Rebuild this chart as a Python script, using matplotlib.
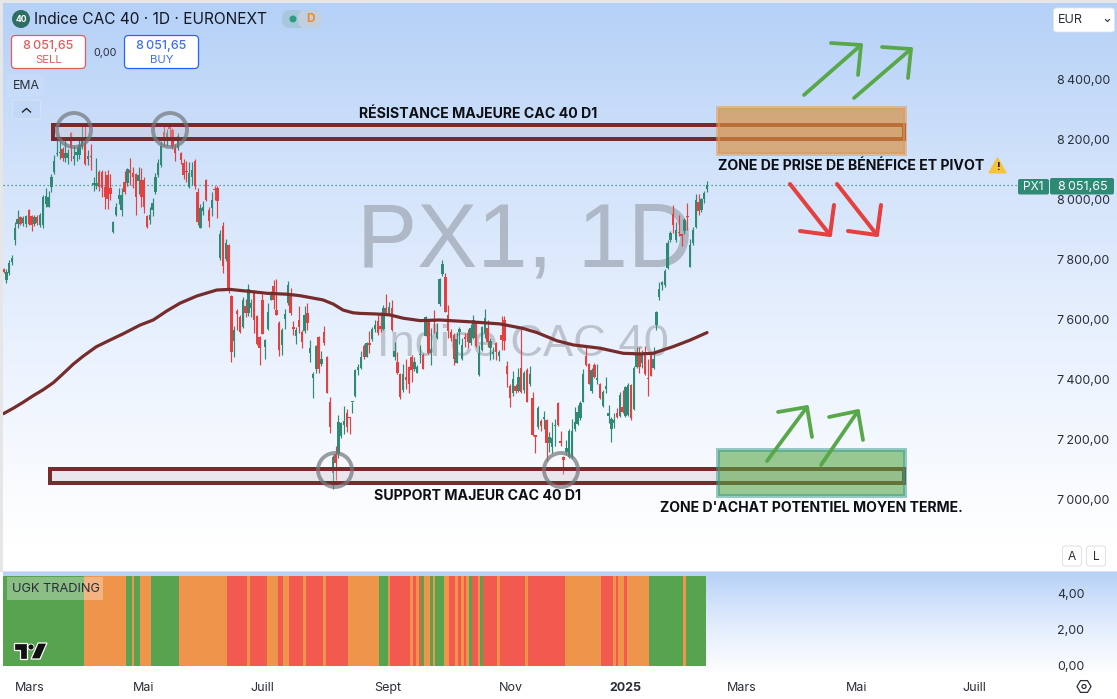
import numpy as np
import matplotlib
matplotlib.use("Agg")
import matplotlib.pyplot as plt
from matplotlib.colors import LinearSegmentedColormap
from matplotlib.patches import Rectangle, Circle, FancyBboxPatch, Polygon

plt.rcParams["font.family"] = ["Inter", "DejaVu Sans"]

# candles, one per trading day
opens = [
    7769, 7733, 7756, 7793, 7867, 7920, 7944, 7922, 7920, 7967,
    7945, 7920, 7944, 7916, 7917, 7985, 7978, 8044, 8094, 8154,
    8155, 8170, 8140, 8140, 8222, 8135, 8150, 8150, 8178, 8190,
    8137, 8146, 8050, 8045, 8094, 8094, 8044, 8083, 8040, 7892,
    7950, 8002, 7967, 8061, 8056, 8100, 8090, 8085, 8064, 8067,
    8066, 7947, 7933, 7967, 8028, 8083, 8115, 8227, 8200, 8240,
    8233, 8172, 8172, 8158, 8124, 8095, 8044, 8075, 8130, 8028,
    7908, 7964, 8067, 7967, 7972, 8038, 8039, 7806, 7913, 7802,
    7850, 7680, 7531, 7630, 7609, 7576, 7647, 7624, 7640, 7698,
    7613, 7542, 7667, 7511, 7571, 7667, 7713, 7633, 7591, 7517,
    7603, 7656, 7683, 7576, 7547, 7600, 7561, 7563, 7622, 7491,
    7408, 7436, 7542, 7453, 7560, 7476, 7327, 7091, 7153, 7153,
    7213, 7250, 7291, 7275, 7325, 7347, 7433, 7439, 7513, 7478,
    7521, 7536, 7569, 7598, 7580, 7571, 7639, 7622, 7639, 7478,
    7461, 7420, 7367, 7409, 7444, 7478, 7436, 7424, 7482, 7483,
    7547, 7594, 7491, 7602, 7539, 7653, 7753, 7744, 7617, 7560,
    7550, 7458, 7561, 7470, 7541, 7555, 7522, 7539, 7591, 7415,
    7500, 7558, 7572, 7506, 7488, 7524, 7480, 7549, 7600, 7447,
    7380, 7356, 7380, 7364, 7439, 7367, 7433, 7387, 7339, 7213,
    7242, 7263, 7271, 7267, 7189, 7178, 7247, 7324, 7195, 7142,
    7161, 7144, 7142, 7235, 7253, 7272, 7328, 7480, 7453, 7362,
    7450, 7401, 7387, 7313, 7370, 7281, 7238, 7255, 7291, 7280,
    7311, 7281, 7283, 7383, 7302, 7444, 7487, 7456, 7492, 7405,
    7483, 7441, 7583, 7678, 7717, 7717, 7772, 7867, 7953, 7867,
    7892, 7885, 7895, 7945, 7778, 7855, 7911, 7994, 7967, 8003,
    8035]
highs = [
    7772, 7769, 7800, 7817, 7925, 7968, 7948, 7945, 7950, 7970,
    7950, 7950, 7950, 7955, 8015, 8040, 8030, 8085, 8150, 8210,
    8195, 8175, 8200, 8170, 8225, 8180, 8175, 8210, 8245, 8245,
    8165, 8185, 8075, 8140, 8100, 8100, 8095, 8100, 8085, 7930,
    7990, 8040, 8040, 8095, 8105, 8140, 8110, 8090, 8110, 8105,
    8075, 7950, 7975, 8005, 8090, 8135, 8195, 8253, 8235, 8250,
    8240, 8185, 8222, 8160, 8135, 8130, 8125, 8125, 8135, 8040,
    7985, 7995, 8070, 7975, 8025, 8048, 8045, 7900, 7925, 7870,
    7853, 7682, 7580, 7637, 7615, 7678, 7670, 7720, 7670, 7700,
    7615, 7545, 7685, 7537, 7657, 7697, 7733, 7738, 7597, 7572,
    7637, 7730, 7705, 7597, 7578, 7647, 7565, 7647, 7657, 7533,
    7427, 7518, 7545, 7497, 7580, 7480, 7343, 7150, 7180, 7282,
    7260, 7313, 7303, 7278, 7328, 7435, 7452, 7498, 7520, 7525,
    7562, 7575, 7600, 7620, 7625, 7650, 7687, 7660, 7667, 7528,
    7492, 7422, 7452, 7470, 7448, 7482, 7475, 7450, 7515, 7490,
    7612, 7600, 7572, 7632, 7590, 7740, 7800, 7755, 7650, 7570,
    7555, 7560, 7578, 7540, 7555, 7570, 7585, 7618, 7595, 7515,
    7580, 7636, 7600, 7540, 7510, 7528, 7500, 7612, 7613, 7463,
    7385, 7430, 7388, 7440, 7569, 7430, 7440, 7447, 7359, 7215,
    7312, 7270, 7295, 7270, 7225, 7260, 7270, 7325, 7230, 7145,
    7200, 7235, 7270, 7310, 7315, 7330, 7435, 7510, 7455, 7440,
    7455, 7452, 7390, 7365, 7410, 7315, 7275, 7290, 7305, 7360,
    7365, 7380, 7390, 7388, 7445, 7510, 7510, 7500, 7512, 7470,
    7490, 7510, 7630, 7725, 7730, 7770, 7865, 7895, 7983, 7925,
    7950, 7888, 7940, 7989, 7870, 7910, 8020, 8020, 8005, 8030,
    8062]
lows = [
    7755, 7724, 7750, 7783, 7850, 7905, 7915, 7912, 7910, 7915,
    7895, 7912, 7918, 7910, 7905, 7975, 7975, 8025, 8085, 8145,
    8135, 8130, 8125, 8120, 8130, 8115, 8130, 8135, 8170, 8115,
    8115, 8100, 8030, 8038, 8030, 8010, 7970, 7970, 8000, 7890,
    7945, 7985, 7945, 8020, 8045, 8050, 8040, 7950, 8020, 7975,
    7955, 7905, 7920, 7945, 8020, 8075, 8110, 8180, 8180, 8200,
    8170, 8130, 8165, 8120, 8070, 8060, 8040, 8050, 8035, 7915,
    7905, 7950, 7995, 7910, 7945, 8000, 7940, 7800, 7755, 7797,
    7690, 7461, 7478, 7567, 7558, 7572, 7610, 7612, 7610, 7555,
    7518, 7450, 7552, 7470, 7565, 7665, 7636, 7615, 7480, 7483,
    7570, 7650, 7615, 7550, 7520, 7558, 7508, 7558, 7567, 7461,
    7339, 7422, 7424, 7445, 7515, 7355, 7224, 7035, 7065, 7140,
    7208, 7220, 7225, 7220, 7290, 7343, 7418, 7437, 7470, 7475,
    7490, 7530, 7560, 7550, 7560, 7565, 7615, 7620, 7562, 7468,
    7420, 7338, 7360, 7370, 7357, 7392, 7430, 7422, 7458, 7435,
    7545, 7488, 7450, 7555, 7535, 7648, 7745, 7625, 7540, 7530,
    7450, 7455, 7520, 7465, 7510, 7505, 7515, 7535, 7510, 7413,
    7495, 7540, 7510, 7467, 7470, 7465, 7462, 7500, 7500, 7378,
    7310, 7345, 7355, 7360, 7358, 7355, 7325, 7380, 7214, 7155,
    7235, 7230, 7235, 7130, 7160, 7155, 7180, 7248, 7180, 7088,
    7150, 7140, 7140, 7230, 7250, 7265, 7325, 7445, 7385, 7358,
    7408, 7385, 7335, 7310, 7355, 7258, 7192, 7240, 7272, 7278,
    7290, 7278, 7280, 7268, 7300, 7440, 7422, 7440, 7415, 7348,
    7412, 7435, 7567, 7665, 7700, 7710, 7770, 7860, 7889, 7860,
    7880, 7845, 7885, 7900, 7775, 7850, 7905, 7950, 7960, 7990,
    8025]
closes = [
    7761, 7761, 7791, 7808, 7906, 7935, 7920, 7939, 7946, 7920,
    7915, 7944, 7922, 7950, 8011, 8012, 8011, 8078, 8130, 8156,
    8158, 8140, 8155, 8158, 8172, 8147, 8160, 8183, 8195, 8120,
    8148, 8144, 8055, 8058, 8042, 8040, 8010, 8002, 8020, 7928,
    7976, 8017, 8017, 8028, 8102, 8089, 8075, 8011, 8083, 8011,
    7976, 7911, 7950, 7989, 8078, 8124, 8180, 8200, 8224, 8238,
    8178, 8158, 8213, 8133, 8083, 8093, 8091, 8100, 8047, 7925,
    7972, 7976, 8000, 7931, 8000, 8034, 7995, 7887, 7780, 7858,
    7700, 7494, 7567, 7620, 7561, 7667, 7622, 7702, 7656, 7600,
    7520, 7505, 7553, 7533, 7626, 7689, 7667, 7617, 7500, 7567,
    7620, 7717, 7624, 7571, 7567, 7578, 7528, 7617, 7591, 7508,
    7420, 7513, 7436, 7469, 7524, 7356, 7244, 7142, 7122, 7260,
    7256, 7264, 7242, 7272, 7327, 7433, 7444, 7478, 7478, 7522,
    7518, 7569, 7583, 7556, 7571, 7639, 7622, 7642, 7567, 7498,
    7424, 7344, 7420, 7401, 7387, 7432, 7461, 7444, 7484, 7438,
    7609, 7491, 7504, 7593, 7561, 7736, 7786, 7628, 7564, 7540,
    7469, 7536, 7569, 7517, 7538, 7525, 7572, 7600, 7513, 7490,
    7576, 7606, 7528, 7531, 7490, 7494, 7494, 7533, 7530, 7420,
    7341, 7402, 7363, 7409, 7361, 7422, 7328, 7420, 7215, 7211,
    7308, 7247, 7273, 7189, 7209, 7206, 7249, 7250, 7189, 7133,
    7172, 7231, 7231, 7260, 7294, 7322, 7420, 7450, 7387, 7433,
    7411, 7403, 7339, 7359, 7381, 7289, 7269, 7265, 7275, 7350,
    7294, 7376, 7383, 7272, 7439, 7489, 7444, 7489, 7420, 7403,
    7414, 7469, 7628, 7702, 7726, 7763, 7858, 7889, 7917, 7900,
    7890, 7880, 7933, 7943, 7850, 7900, 8000, 7964, 8002, 8024,
    8051]

# EMA read at many places along the line
ema_idx = [0, 3.5, 7, 10.6, 14, 17.7, 21.3, 24.8, 28.4, 33, 37.8, 42.5, 48.5, 53.2, 58,
           62.7, 68.7, 75.8, 80.5, 88.7, 93.6, 100.7, 105.4, 113.5, 117.2, 120.7, 124.2,
           126.7, 132.7, 137.3, 142, 148, 155, 165.8, 176.4, 184.6, 189.6, 196.6, 202.4,
           212, 220.2, 226.2, 230.8, 237.9, 244, 250]
ema_val = [7288, 7306, 7326, 7348, 7367, 7391, 7422, 7453, 7480, 7511, 7533, 7554, 7583, 7600, 7630,
           7656, 7680, 7700, 7702, 7694, 7689, 7686, 7681, 7667, 7653, 7633, 7624,
           7622, 7620, 7617, 7606, 7598, 7600, 7594, 7587, 7572, 7558, 7531, 7517,
           7506, 7489, 7487, 7489, 7511, 7533, 7558]

# indicator bands as runs: state and number of days
band_states = ["G", "O", "G", "O", "G", "O", "G", "O", "R", "O", "R", "O", "R", "O", "R", "O",
               "R", "O", "R", "O", "G", "O", "R", "O", "R", "O", "R", "G", "O", "G", "O", "G",
               "O", "R", "O", "R", "O", "R", "O", "G", "R", "O", "G", "R", "O", "R", "O", "R",
               "O", "R", "O", "R", "O", "R", "O", "G", "O", "G"]
band_days = [29, 15, 2, 1, 2, 4, 10, 17, 7, 1, 6, 4, 2, 2, 5, 1,
             6, 1, 8, 11, 3, 1, 7, 1, 1, 1, 1, 1, 2, 1, 1, 3,
             2, 2, 1, 1, 1, 1, 1, 1, 2, 1, 1, 5, 1, 9, 1, 13,
             13, 4, 1, 1, 2, 1, 8, 12, 1, 7]
band_colors = {"G": "#58a34f", "O": "#ef944b", "R": "#f2594f"}

price_ticks = [7000, 7200, 7400, 7600, 7800, 8000, 8200, 8400]
band_ticks = [0, 2, 4]
month_pos = [9.4, 49.9, 91.9, 136.6, 180.3, 220.9, 262.4, 303.3, 344.9]
month_names = ["Mars", "Mai", "Juill", "Sept", "Nov", "2025", "Mars", "Mai", "Juill"]

last_price = 8051.65
resistance = (17.6, 320.0, 8203, 8250)
support = (16.5, 320.0, 7057, 7103)
profit_zone = (253.9, 320.4, 8153, 8307)
buy_zone = (253.9, 320.4, 7013, 7167)

W, H = 1117, 699
TEXT = "#2a2e39"
UP = "#2f8a75"
DOWN = "#e5403f"
BROWN = "#762c2c"


def fmt(v):
    s = f"{v:,.2f}".replace(",", "\u2009").replace(".", ",")
    return s


def px_axes(fig, left, top, right, bottom):
    return fig.add_axes([left / W, 1 - bottom / H, (right - left) / W, (bottom - top) / H])


def zone(ax, box, face, edge, lw=2.88):
    x0, x1, y0, y1 = box
    ax.add_patch(Rectangle((x0, y0), x1 - x0, y1 - y0, facecolor=face, edgecolor="none", zorder=6))
    ax.add_patch(Rectangle((x0, y0), x1 - x0, y1 - y0, fill=False, edgecolor=edge, linewidth=lw,
                           joinstyle="miter", zorder=6))


def arrow(ax, pts, head1, head2, color, lw):
    (x0, y0), (x1, y1) = pts
    ax.plot([x0, x1], [y0, y1], color=color, lw=lw, solid_capstyle="round")
    ax.plot([head1[0], x1, head2[0]], [head1[1], y1, head2[1]], color=color, lw=lw,
            solid_capstyle="round", solid_joinstyle="round")


fig = plt.figure(figsize=(W / 100, H / 100), dpi=100, facecolor="white")

# background layer in pixel coordinates, watermark lives here so candles sit on top
bg = px_axes(fig, 0, 0, W, H)
bg.set_xlim(0, W)
bg.set_ylim(H, 0)
bg.axis("off")
bg.set_zorder(0)
paneCmap = LinearSegmentedColormap.from_list("pane", ["#b5d1f7", "#d4e4fb", "#ecf3fe", "#ffffff"])
grad = np.linspace(0, 1, 256).reshape(-1, 1)
bg.imshow(grad, cmap=paneCmap, extent=(3, W, 545, 3), aspect="auto", zorder=1)
bg.imshow(grad, cmap=paneCmap, extent=(3, W, 675, 572), aspect="auto", zorder=1)
bg.set_xlim(0, W)
bg.set_ylim(H, 0)
bg.add_patch(Rectangle((0, 0), W, 3, color="#e6e6e6", lw=0, zorder=2))
bg.add_patch(Rectangle((0, 0), 3, 571, color="#e6e6e6", lw=0, zorder=2))
bg.add_patch(Rectangle((0, 570.5), W, 1.5, color="#e0e3eb", lw=0, zorder=2))
bg.text(525, 243.5, "PX1, 1D", fontsize=65, color="#aeb8c6", ha="center", va="center", zorder=3,
        fontfamily="Liberation Sans")
bg.text(523, 345, "Indice CAC 40", fontsize=32.7, color="#bcc3cd", ha="center", va="center", zorder=3,
        fontfamily="Liberation Sans")

# price pane
ax = px_axes(fig, 3, 3, 1050, 571)
ax.set_zorder(1)
ax.patch.set_visible(False)
x0Idx = -0.18
pxPerDay = 2.814
ax.set_xlim(x0Idx, x0Idx + (1050 - 3) / pxPerDay)
ax.set_ylim(7000 - 71 / 0.3, 7000 + 497 / 0.3)
for s in ax.spines.values():
    s.set_visible(False)
ax.set_xticks([])
ax.yaxis.tick_right()
ax.set_yticks(price_ticks)
ax.set_yticklabels([fmt(v) for v in price_ticks], fontsize=9.0, color=TEXT, va="center_baseline")
ax.tick_params(axis="y", length=0, pad=5.2)

idx = np.arange(len(closes))
op = np.array(opens, dtype=float)
hi = np.array(highs, dtype=float)
lo = np.array(lows, dtype=float)
cl = np.array(closes, dtype=float)
cols = np.where(cl >= op, UP, DOWN)
ax.vlines(idx, lo, hi, colors=cols, linewidth=0.85, zorder=3)
bodyLow = np.minimum(op, cl)
bodyH = np.maximum(np.abs(cl - op), 4)
ax.bar(idx, bodyH, bottom=bodyLow, width=0.85, color=cols, linewidth=0, zorder=3)

ax.plot(ema_idx, ema_val, color=BROWN, lw=2.3, solid_capstyle="round", solid_joinstyle="round", zorder=4)
ax.axhline(last_price, color=UP, lw=0.9, ls=(0, (1, 2.2)), zorder=2)

lavender = (0.80, 0.75, 0.80, 0.35)
zone(ax, resistance, lavender, BROWN)
zone(ax, support, lavender, BROWN)
zone(ax, profit_zone, (0.846, 0.566, 0.246, 0.68), (0.90, 0.60, 0.32, 0.55))
zone(ax, buy_zone, (0.33, 0.647, 0.267, 0.58), (0.20, 0.60, 0.55, 0.5))

# indicator pane
ax2 = px_axes(fig, 3, 572, 1050, 675)
ax2.set_zorder(1)
ax2.patch.set_visible(False)
ax2.set_xlim(ax.get_xlim())
ax2.set_ylim((666 - 675) / 18, (666 - 572) / 18)
for s in ax2.spines.values():
    s.set_visible(False)
bandCols = np.repeat([band_colors[s] for s in band_states], band_days)
ax2.bar(np.arange(len(bandCols)), 5, width=1.02, color=bandCols, linewidth=0, zorder=2)
ax2.yaxis.tick_right()
ax2.set_yticks(band_ticks)
ax2.set_yticklabels([fmt(v) for v in band_ticks], fontsize=9.0, color=TEXT, va="center_baseline")
ax2.tick_params(axis="y", length=0, pad=5.2)
ax2.set_xticks(month_pos)
ax2.set_xticklabels(month_names, fontsize=9.0, color=TEXT)
ax2.tick_params(axis="x", length=0, pad=5)
ax2.get_xticklabels()[5].set_fontweight("bold")

# everything drawn on the chart by hand plus the ui bits
ov = px_axes(fig, 0, 0, W, H)
ov.set_xlim(0, W)
ov.set_ylim(H, 0)
ov.axis("off")
ov.set_zorder(2)
ov.patch.set_visible(False)

for cx, cy in [(74, 130), (170, 130), (335, 470), (561, 470)]:
    ov.add_patch(Circle((cx, cy), 17, fill=False, edgecolor="#74787d", alpha=0.72, lw=2.8))

ov.text(478.5, 113.5, "RÉSISTANCE MAJEURE CAC 40 D1", fontsize=10.2, fontweight="bold", color="#0d0f14",
        ha="center", va="center")
ov.text(718, 166.5, "ZONE DE PRISE DE BÉNÉFICE ET PIVOT", fontsize=10.2, fontweight="bold", color="#0d0f14",
        ha="left", va="center")
ov.text(477, 496.5, "SUPPORT MAJEUR CAC 40 D1", fontsize=10.2, fontweight="bold", color="#0d0f14",
        ha="center", va="center")
ov.text(811, 508.5, "ZONE D'ACHAT POTENTIEL MOYEN TERME.", fontsize=10.1, fontweight="bold", color="#0d0f14",
        ha="center", va="center")

# warning sign after the label
ov.add_patch(Polygon([(997.5, 158.5), (1005.5, 172.5), (989.5, 172.5)], closed=True, facecolor="#f8c437",
                     edgecolor="#f8c437", lw=1.4, joinstyle="round"))
ov.text(997.5, 167, "!", fontsize=8, fontweight="bold", color="#222222", ha="center", va="center")

GREEN_ARROW = "#58a748"
RED_ARROW = "#e5403f"
arrow(ov, [(804, 95), (861, 45)], (831, 43), (858, 75), GREEN_ARROW, 2.7)
arrow(ov, [(854, 98), (911, 49)], (882, 47), (908, 78), GREEN_ARROW, 2.7)
arrow(ov, [(790, 184), (830, 235)], (834, 205), (800, 231), RED_ARROW, 2.9)
arrow(ov, [(837, 184), (877, 235)], (881, 205), (848, 231), RED_ARROW, 2.9)
arrow(ov, [(767, 461), (807, 407)], (778, 412), (812, 437), GREEN_ARROW, 2.7)
arrow(ov, [(821, 465), (858, 411)], (829, 417), (863, 440), GREEN_ARROW, 2.7)

# header
ov.add_patch(Circle((21, 19), 9, facecolor="#2f6f63", edgecolor="none"))
ov.text(21, 19.3, "40", fontsize=6.2, color="white", fontweight="bold", ha="center", va="center")
ov.text(34, 19, "Indice CAC 40 · 1D · EURONEXT", fontsize=11.1, color="#131722", ha="left", va="center")
ov.add_patch(FancyBboxPatch((282, 10), 24, 18, boxstyle="round,pad=0,rounding_size=8",
                            facecolor="#a7c8dc", edgecolor="none"))
ov.add_patch(FancyBboxPatch((298, 10), 24, 18, boxstyle="round,pad=0,rounding_size=8",
                            facecolor="#c2cfdf", edgecolor="none"))
ov.add_patch(Rectangle((302, 10), 8, 18, facecolor="#c2cfdf", edgecolor="none"))
ov.add_patch(Circle((293, 19), 3.5, facecolor="#2f9c84", edgecolor="none"))
ov.text(311, 19.5, "D", fontsize=8.6, color="#ef8a2c", fontweight="bold", ha="center", va="center")

for bx, edge, col, word in [(11.5, "#e25c5c", "#e25c5c", "SELL"), (124.5, "#2962ff", "#3f6ff0", "BUY")]:
    ov.add_patch(FancyBboxPatch((bx, 35.5), 74, 33, boxstyle="round,pad=0,rounding_size=4",
                                facecolor="white", edgecolor=edge, lw=0.9))
    ov.text(bx + 37, 45.5, fmt(last_price), fontsize=9.0, fontweight="medium", color=col, ha="center", va="center")
    ov.text(bx + 37, 60, word, fontsize=8.2, color=col, ha="center", va="center")
ov.text(105, 52.5, "0,00", fontsize=7.8, color=TEXT, ha="center", va="center")

ov.add_patch(Rectangle((7, 74), 37, 23, facecolor="#c9ddf8", edgecolor="none", alpha=0.8))
ov.text(26, 86, "EMA", fontsize=8.8, color=TEXT, ha="center", va="center")
ov.add_patch(FancyBboxPatch((12.5, 100), 28, 19, boxstyle="round,pad=0,rounding_size=2",
                            facecolor="#c2d9f8", edgecolor="#d6e2f4", lw=0.8))
ov.plot([22.5, 26.5, 30.5], [112, 108.5, 112], color="#222222", lw=1.0)

ov.add_patch(FancyBboxPatch((1053.5, 8), 61, 24, boxstyle="round,pad=0,rounding_size=3",
                            facecolor="white", edgecolor="#dfe5ee", lw=0.6))
ov.text(1057.5, 20, "EUR", fontsize=9.0, color=TEXT, ha="left", va="center")
ov.plot([1105.5, 1107.5, 1109.5], [19.5, 21.5, 19.5], color=TEXT, lw=0.8)

# last price tag
ov.add_patch(FancyBboxPatch((1018, 179), 31, 15.5, boxstyle="round,pad=0,rounding_size=2",
                            facecolor=UP, edgecolor="none"))
ov.add_patch(FancyBboxPatch((1050, 178), 64, 16.5, boxstyle="round,pad=0,rounding_size=2",
                            facecolor=UP, edgecolor="none"))
ov.text(1033.5, 187, "PX1", fontsize=8.6, color="white", ha="center", va="center")
ov.text(1083, 186.5, fmt(last_price), fontsize=9.0, color="white", ha="center", va="center")

for bx, word in [(1062.5, "A"), (1086.5, "L")]:
    ov.add_patch(FancyBboxPatch((bx, 546), 19, 20, boxstyle="round,pad=0,rounding_size=3",
                                facecolor="white", edgecolor="#e0e3eb", lw=0.8))
    ov.text(bx + 9.5, 556.5, word, fontsize=8.6, color=TEXT, ha="center", va="center")

# indicator label and logo
ov.add_patch(Rectangle((7, 577), 96, 23, facecolor="white", alpha=0.3, edgecolor="none"))
ov.text(56, 588.5, "UGK TRADING", fontsize=9.2, color=TEXT, ha="center", va="center")
logo = [[(14, 643), (27, 643), (27, 659), (20, 659), (20, 650), (14, 650)],
        [(38, 643), (47, 643), (40, 659), (31, 659)]]
for pts in logo:
    ov.add_patch(Polygon(pts, closed=True, facecolor="#111111", edgecolor="white", lw=0.9))
ov.add_patch(Circle((31, 647), 3, facecolor="#111111", edgecolor="white", lw=0.6))

# settings hexagon
ang = np.deg2rad(np.arange(0, 360, 60))
ov.add_patch(Polygon(np.c_[1084 + 7 * np.cos(ang), 686.5 + 6.8 * np.sin(ang)], closed=True, fill=False,
                     edgecolor=TEXT, lw=0.9))
ov.add_patch(Circle((1084, 686.5), 2, fill=False, edgecolor=TEXT, lw=0.9))

fig.savefig("out.png", dpi=100)
